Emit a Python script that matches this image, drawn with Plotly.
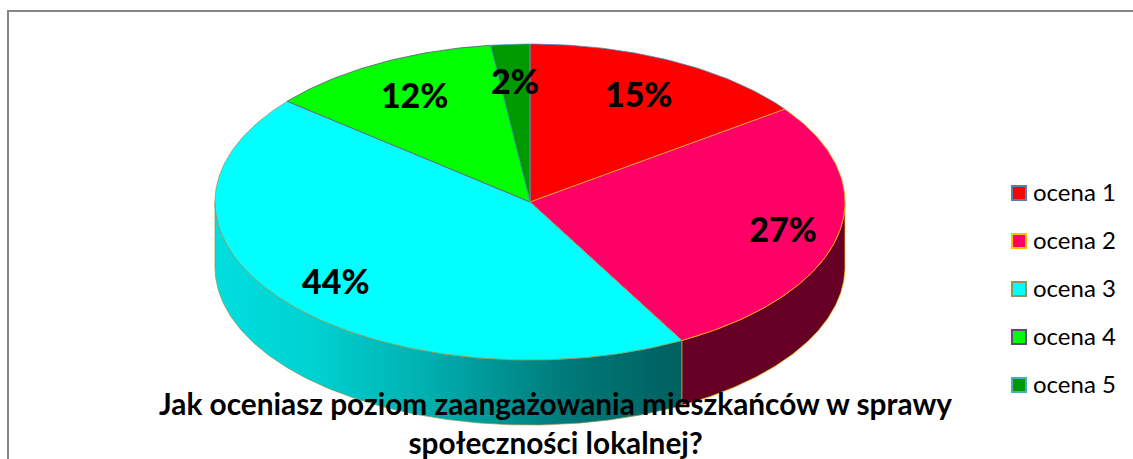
import numpy as np
import plotly.graph_objects as go

# ---- data ----
categories = ["ocena 1", "ocena 2", "ocena 3", "ocena 4", "ocena 5"]
values = [15, 27, 44, 12, 2]
title_lines = ["Jak oceniasz poziom zaangażowania mieszkańców w sprawy", "społeczności lokalnej?"]

# ---- styles ----
colors = ["#FF0000", "#FF0066", "#00FFFF", "#00FF00", "#009900"]
edge_colors = ["#4F81BD", "#FFC000", "#8A9A5B", "#604A7B", "#4BACC6"]
side_solid = {1: "#660025"}
FONT = "Lato, Carlito, Calibri, sans-serif"
W, H = 1133, 459
CX, CY, RX, RY, DEPTH = 530, 202, 315, 158, 65
LABEL_RADII = [0.76, 0.823, 0.80, 0.76, 0.76]
LABEL_DY = 3
LEG_X, LEG_TEXT_X, LEG_Y0, LEG_DY, LEG_TEXT_DY = 1019, 1033, 193, 48, 1.5


def ell(theta):
    """Ellipse position for clockwise-from-top angle (radians)."""
    return CX + RX * np.sin(theta), CY - RY * np.cos(theta)


fractions = np.array(values) / sum(values)
bounds = np.concatenate([[0], np.cumsum(fractions)]) * 2 * np.pi

fig = go.Figure()

# Side walls: only the parts of the rim facing the viewer
for i in range(len(values)):
    a0, a1 = max(bounds[i], np.pi / 2), min(bounds[i + 1], 3 * np.pi / 2)
    if a1 <= a0:
        continue
    t = np.linspace(a0, a1, 160)
    x, y = ell(t)
    xs = np.concatenate([x, x[::-1], x[:1]])
    ys = np.concatenate([y, y[::-1] + DEPTH, y[:1]])
    kw = dict(fillcolor=side_solid[i]) if i in side_solid else dict(
        fillgradient=dict(
            type="horizontal",
            colorscale=[[0, "#00DEDE"], [0.2, "#00D2D2"], [0.45, "#00B0B0"], [0.75, "#007A7A"], [1, "#005F5F"]],
        )
    )
    fig.add_trace(go.Scatter(x=xs, y=ys, mode="lines", fill="toself",
                             line=dict(color=edge_colors[i], width=0.75),
                             hoverinfo="skip", showlegend=False, **kw))

# Top face wedges
for i in range(len(values)):
    t = np.linspace(bounds[i], bounds[i + 1], max(8, int(400 * fractions[i])))
    x, y = ell(t)
    fig.add_trace(go.Scatter(x=np.concatenate([[CX], x, [CX]]), y=np.concatenate([[CY], y, [CY]]),
                             mode="lines", fill="toself", fillcolor=colors[i],
                             line=dict(color=edge_colors[i], width=0.75),
                             name=categories[i], hoverinfo="skip", showlegend=False))

# Percentage labels
mid = (bounds[:-1] + bounds[1:]) / 2
lx = CX + np.array(LABEL_RADII) * RX * np.sin(mid)
ly = CY - np.array(LABEL_RADII) * RY * np.cos(mid) + LABEL_DY
fig.add_trace(go.Scatter(x=lx, y=ly, mode="text", text=[f"{v}%" for v in values],
                         textposition="middle center",
                         textfont=dict(family=FONT, size=34, color="#000000", weight=900),
                         hoverinfo="skip", showlegend=False))

# Legend
ly2 = np.array([LEG_Y0 + k * LEG_DY for k in range(len(categories))])
fig.add_trace(go.Scatter(x=[LEG_X] * len(categories), y=ly2, mode="markers",
                         marker=dict(symbol="square", size=14, color=colors,
                                     line=dict(color=edge_colors, width=2)),
                         hoverinfo="skip", showlegend=False))
fig.add_trace(go.Scatter(x=[LEG_TEXT_X] * len(categories), y=ly2 + LEG_TEXT_DY, mode="text",
                         text=categories, textposition="middle right",
                         textfont=dict(family=FONT, size=24, color="#000000"),
                         hoverinfo="skip", showlegend=False))

fig.update_layout(
    width=W, height=H, autosize=False,
    margin=dict(l=0, r=0, t=0, b=0),
    paper_bgcolor="#FFFFFF", plot_bgcolor="#FFFFFF",
    showlegend=False,
    xaxis=dict(range=[0, W], visible=False, fixedrange=True),
    yaxis=dict(range=[H, 0], visible=False, fixedrange=True),
    shapes=[dict(type="path", path=f"M 8 {H} L 8 11 L {W} 11", xref="x", yref="y",
                 line=dict(color="#868686", width=2), layer="below")],
    annotations=[dict(text="<br>".join(title_lines), x=555, y=423, xref="x", yref="y",
                      xanchor="center", yanchor="middle", showarrow=False, align="center",
                      font=dict(family=FONT, size=29.8, color="#000000", weight="bold"))],
)

fig.write_html("out.html", config=dict(displayModeBar=False),
               post_script="document.body.style.margin='0';")
